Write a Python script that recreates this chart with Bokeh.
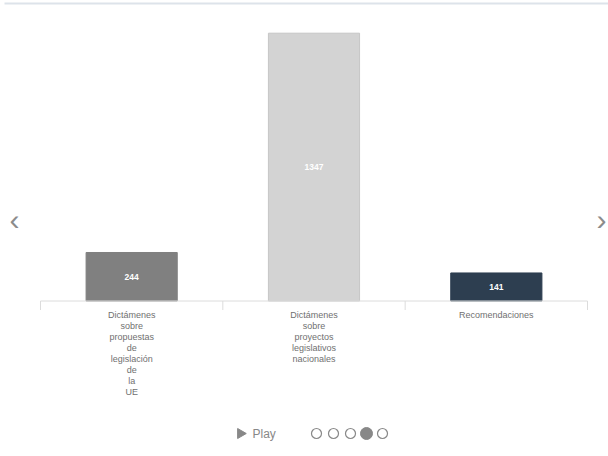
from bokeh.plotting import figure
from bokeh.models import Range1d
from bokeh.core.properties import value
from bokeh.embed import file_html
from bokeh.resources import INLINE
import math

# Opinions and recommendations by type
categories = [
    "Dictámenes sobre propuestas de legislación de la UE",
    "Dictámenes sobre proyectos legislativos nacionales",
    "Recomendaciones",
]
counts = [244, 1347, 141]

bar_fill = ["#808080", "#d3d3d3", "#2d3e50"]
bar_line = ["#808080", "#c6c6c6", "#2d3e50"]

FONT = value("Liberation Sans")
W, H = 608, 456

# Page-pixel coordinates for the decorations, data ranges for the bars
p = figure(width=W, height=H, x_range=Range1d(0, W), y_range=Range1d(H, 0),
           output_backend="svg", toolbar_location=None, min_border=0,
           x_axis_location=None, y_axis_location=None)
p.grid.visible = False
p.outline_line_color = None
p.background_fill_color = "white"
p.border_fill_color = "white"

# category slots 182.33 px wide starting at x=40; value scale ~0.199 px per unit, zero at y=300.5
slot = 182.33
p.extra_x_ranges = {"cat": Range1d(-0.5 - 40 / slot, (W - 40) / slot - 0.5)}
px_per_unit = 267.8 / 1347
p.extra_y_ranges = {"val": Range1d(-(H - 300.5) / px_per_unit, 300.5 / px_per_unit)}

idx = list(range(len(categories)))

# header rule
p.segment(x0=4, y0=3, x1=W, y1=3, line_color="#dde3ea", line_width=2)

# bars
p.vbar(x=idx, top=counts, bottom=0, width=0.5, fill_color=bar_fill,
       line_color=bar_line, line_width=1, x_range_name="cat", y_range_name="val")

# value labels centred in the bars
p.text(x=idx, y=[c / 2 for c in counts], text=[str(c) for c in counts],
       text_color="white", text_font=FONT, text_font_style="bold",
       text_font_size="8.5px", text_align="center", text_baseline="middle",
       x_range_name="cat", y_range_name="val")

# baseline and slot boundaries
bounds = [i - 0.5 for i in range(len(categories) + 1)]
p.segment(x0=bounds[0], y0=0, x1=bounds[-1], y1=0, line_color="#dcdcdc",
          line_width=1, x_range_name="cat", y_range_name="val")
tick_len = 9 / px_per_unit
p.segment(x0=bounds, y0=[0] * len(bounds), x1=bounds, y1=[-tick_len] * len(bounds),
          line_color="#dcdcdc", line_width=1, x_range_name="cat", y_range_name="val")

# category labels, one word per line
p.text(x=idx, y=[0] * len(idx), text=["\n".join(c.split()) for c in categories],
       text_color="#707070", text_font=FONT, text_font_size="9px",
       text_align="center", text_baseline="top", text_line_height=1.1,
       y_offset=9, x_range_name="cat", y_range_name="val")

# navigation arrows
p.text(x=[14, 601], y=[219, 219], text=["‹", "›"], text_color="#8c8c8c",
       text_font=FONT, text_font_size="30px", text_align="center",
       text_baseline="middle")

# play control
p.scatter(x=[240], y=[433], marker="triangle", size=10, angle=-math.pi / 2,
          fill_color="#888888", line_color="#888888")
p.text(x=[252], y=[433], text=["Play"], text_color="#888888", text_font=FONT,
       text_font_size="12px", text_align="left", text_baseline="middle")
p.scatter(x=[316, 333, 350, 382], y=[433] * 4, marker="circle", size=10,
          fill_color="white", line_color="#888888", line_width=1.2)
p.scatter(x=[366], y=[433], marker="circle", size=12, fill_color="#888888",
          line_color="#888888")

open("out.html", "w").write(file_html(p, INLINE))
